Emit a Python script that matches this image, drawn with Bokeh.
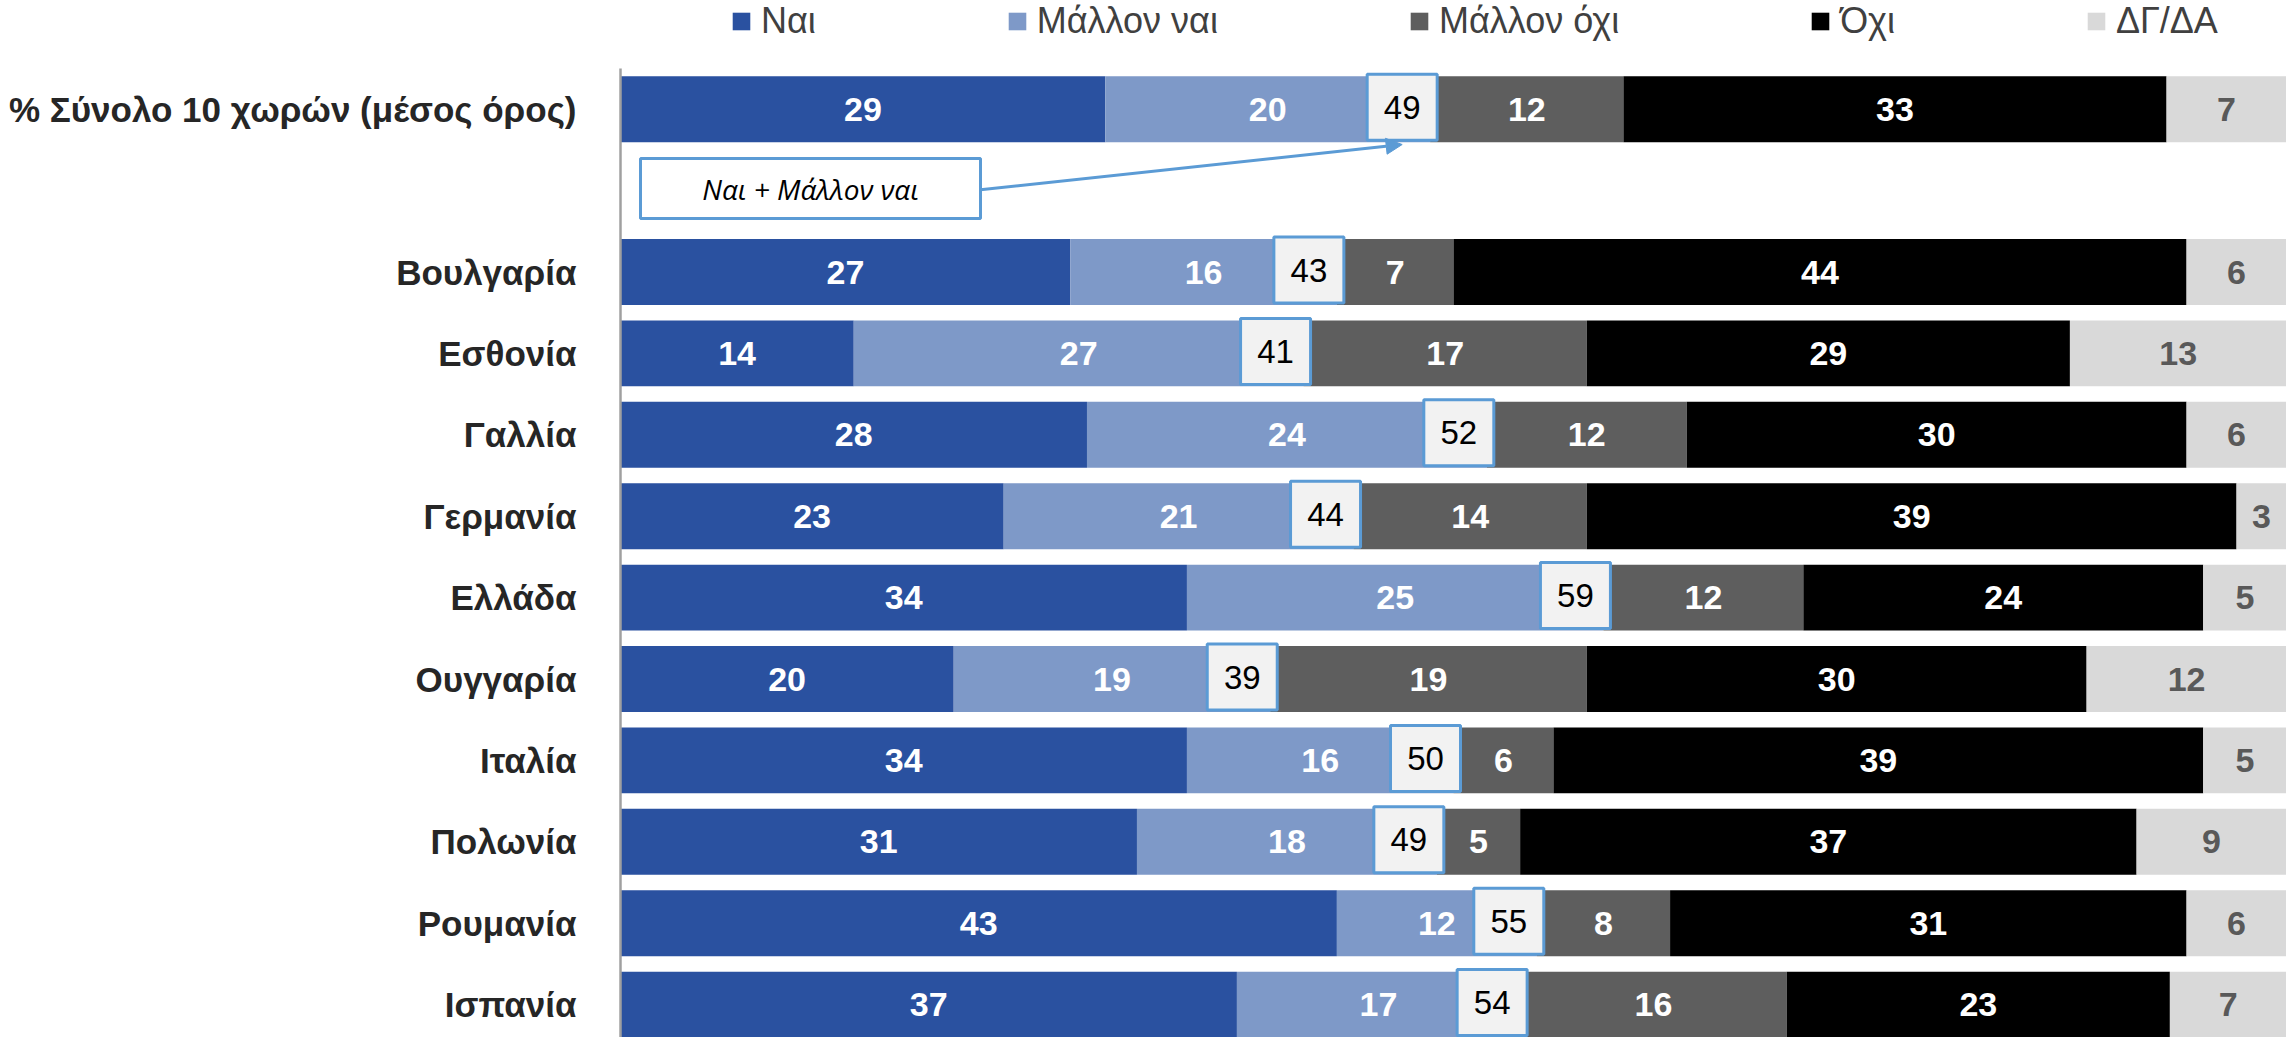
import numpy as np
from bokeh.plotting import figure
from bokeh.models import (ColumnDataSource, Range1d, FixedTicker, Legend, LegendItem,
                          Arrow, NormalHead, Label, BoxAnnotation)
from bokeh.core.properties import value
from bokeh.embed import file_html
from bokeh.resources import INLINE

# ---------------- data ----------------
categories = ["% Σύνολο 10 χωρών (μέσος όρος)", "Βουλγαρία", "Εσθονία", "Γαλλία", "Γερμανία",
              "Ελλάδα", "Ουγγαρία", "Ιταλία", "Πολωνία", "Ρουμανία", "Ισπανία"]
series_names = ["Ναι", "Μάλλον ναι", "Μάλλον όχι", "Όχι", "ΔΓ/ΔΑ"]
nai        = [29.1, 27, 14, 28, 23, 34, 20, 34, 31, 43, 37]
mallon_nai = [19.5, 16, 27, 24, 21, 25, 19, 16, 18, 12, 17]
mallon_oxi = [11.6, 7, 17, 12, 14, 12, 19, 6, 5, 8, 16]
oxi        = [32.6, 44, 29, 30, 39, 24, 30, 39, 37, 31, 23]
dg_da      = [7.2, 6, 13, 6, 3, 5, 12, 5, 9, 6, 7]
annotation_text = "Ναι + Μάλλον ναι"

# ---------------- styles ----------------
colors = ["#2A51A0", "#7E99C8", "#5E5E5E", "#000000", "#D9D9D9"]
label_colors = ["#FFFFFF", "#FFFFFF", "#FFFFFF", "#FFFFFF", "#595959"]
accent = "#5B9BD5"
SANS = "Liberation Sans"

W, H = 2286, 1037
BORDER_LEFT = 620
TOP_SPACE = 68          # room above the first category slot (legend lives here)
frame_w = W - BORDER_LEFT
frame_h = H
px_per_unit = 16.66
x_end = frame_w / px_per_unit
slot_px = 81.4
y_top = -0.5 - TOP_SPACE / slot_px
y_bottom = y_top + frame_h / slot_px

# row positions: total row, an empty slot, then the countries
ypos = [0] + [i + 1 for i in range(1, len(categories))]

vals = np.array([nai, mallon_nai, mallon_oxi, oxi, dg_da], dtype=float)
rights = np.cumsum(vals, axis=0)
lefts = rights - vals

p = figure(width=W, height=H, output_backend="svg", toolbar_location=None,
           x_range=Range1d(0, x_end), y_range=Range1d(y_bottom, y_top),
           x_axis_location=None, min_border_left=BORDER_LEFT, min_border_top=0,
           min_border_bottom=0, min_border_right=0)
p.outline_line_color = None
p.xgrid.visible = False
p.ygrid.visible = False
p.background_fill_color = "white"
p.border_fill_color = "white"

bar_h = 0.81
renderers = []
for k in range(5):
    src = ColumnDataSource(dict(y=ypos, left=lefts[k], right=rights[k],
                                mid=(lefts[k] + rights[k]) / 2,
                                lab=[str(int(round(v))) for v in vals[k]]))
    r = p.hbar(y="y", left="left", right="right", height=bar_h, source=src,
               fill_color=colors[k], line_color=None)
    renderers.append(r)
    p.text(x="mid", y="y", text="lab", source=src, text_align="center",
           text_baseline="middle", text_color=label_colors[k],
           text_font=value(SANS), text_font_style="bold", text_font_size="34px")

# sum boxes (Ναι + Μάλλον ναι)
sums = rights[1]
box_off = 28 / px_per_unit
box_src = ColumnDataSource(dict(x=sums - box_off, y=[v - 2 / slot_px for v in ypos],
                                lab=[str(int(round(v))) for v in sums]))
p.rect(x="x", y="y", width=70, height=66, width_units="screen", height_units="screen",
       source=box_src, fill_color="#F2F2F2", line_color=accent, line_width=3)
p.text(x="x", y="y", text="lab", source=box_src, text_align="center", text_baseline="middle",
       text_color="#000000", text_font=value(SANS), text_font_size="33px")

# annotation box + arrow
ann = BoxAnnotation(left=20 / px_per_unit, right=360 / px_per_unit, top=0.606, bottom=1.343,
                    fill_color="white", fill_alpha=1, line_color=accent, line_alpha=1,
                    line_width=3)
p.add_layout(ann)
p.add_layout(Label(x=190 / px_per_unit, y=0.975, text=annotation_text, text_align="center",
                   text_baseline="middle", text_font="Open Sans", text_font_style="italic",
                   text_font_size="28px", text_color="#000000", level="overlay"))
p.add_layout(Arrow(end=NormalHead(size=16, fill_color=accent, line_color=accent),
                   x_start=360 / px_per_unit, y_start=0.99,
                   x_end=sums[0] - box_off, y_end=0 + 0.434,
                   line_color=accent, line_width=3))

# y axis
ax = p.yaxis[0]
ax.ticker = FixedTicker(ticks=ypos)
ax.major_label_overrides = {y: c for y, c in zip(ypos, categories)}
ax.bounds = (y_bottom, -0.5)
ax.major_tick_line_color = None
ax.minor_tick_line_color = None
ax.axis_line_color = "#A0A0A0"
ax.axis_line_width = 2.5
ax.major_label_standoff = 38
ax.major_label_text_font = SANS
ax.major_label_text_font_style = "bold"
ax.major_label_text_font_size = "35px"
ax.major_label_text_color = "#262626"

# legend along the top (inside the frame's top strip)
legend_h = 42
legend = Legend(items=[LegendItem(label=n, renderers=[r]) for n, r in zip(series_names, renderers)],
                location=(110, frame_h - (20.5 + legend_h / 2)),
                orientation="horizontal", padding=0, margin=0,
                spacing=190, glyph_width=22, glyph_height=22, label_standoff=9,
                label_text_font=SANS, label_text_font_size="36px",
                label_text_color="#404040", background_fill_alpha=0, border_line_alpha=0)
p.add_layout(legend, "center")

open("out.html", "w").write(file_html(p, INLINE))
